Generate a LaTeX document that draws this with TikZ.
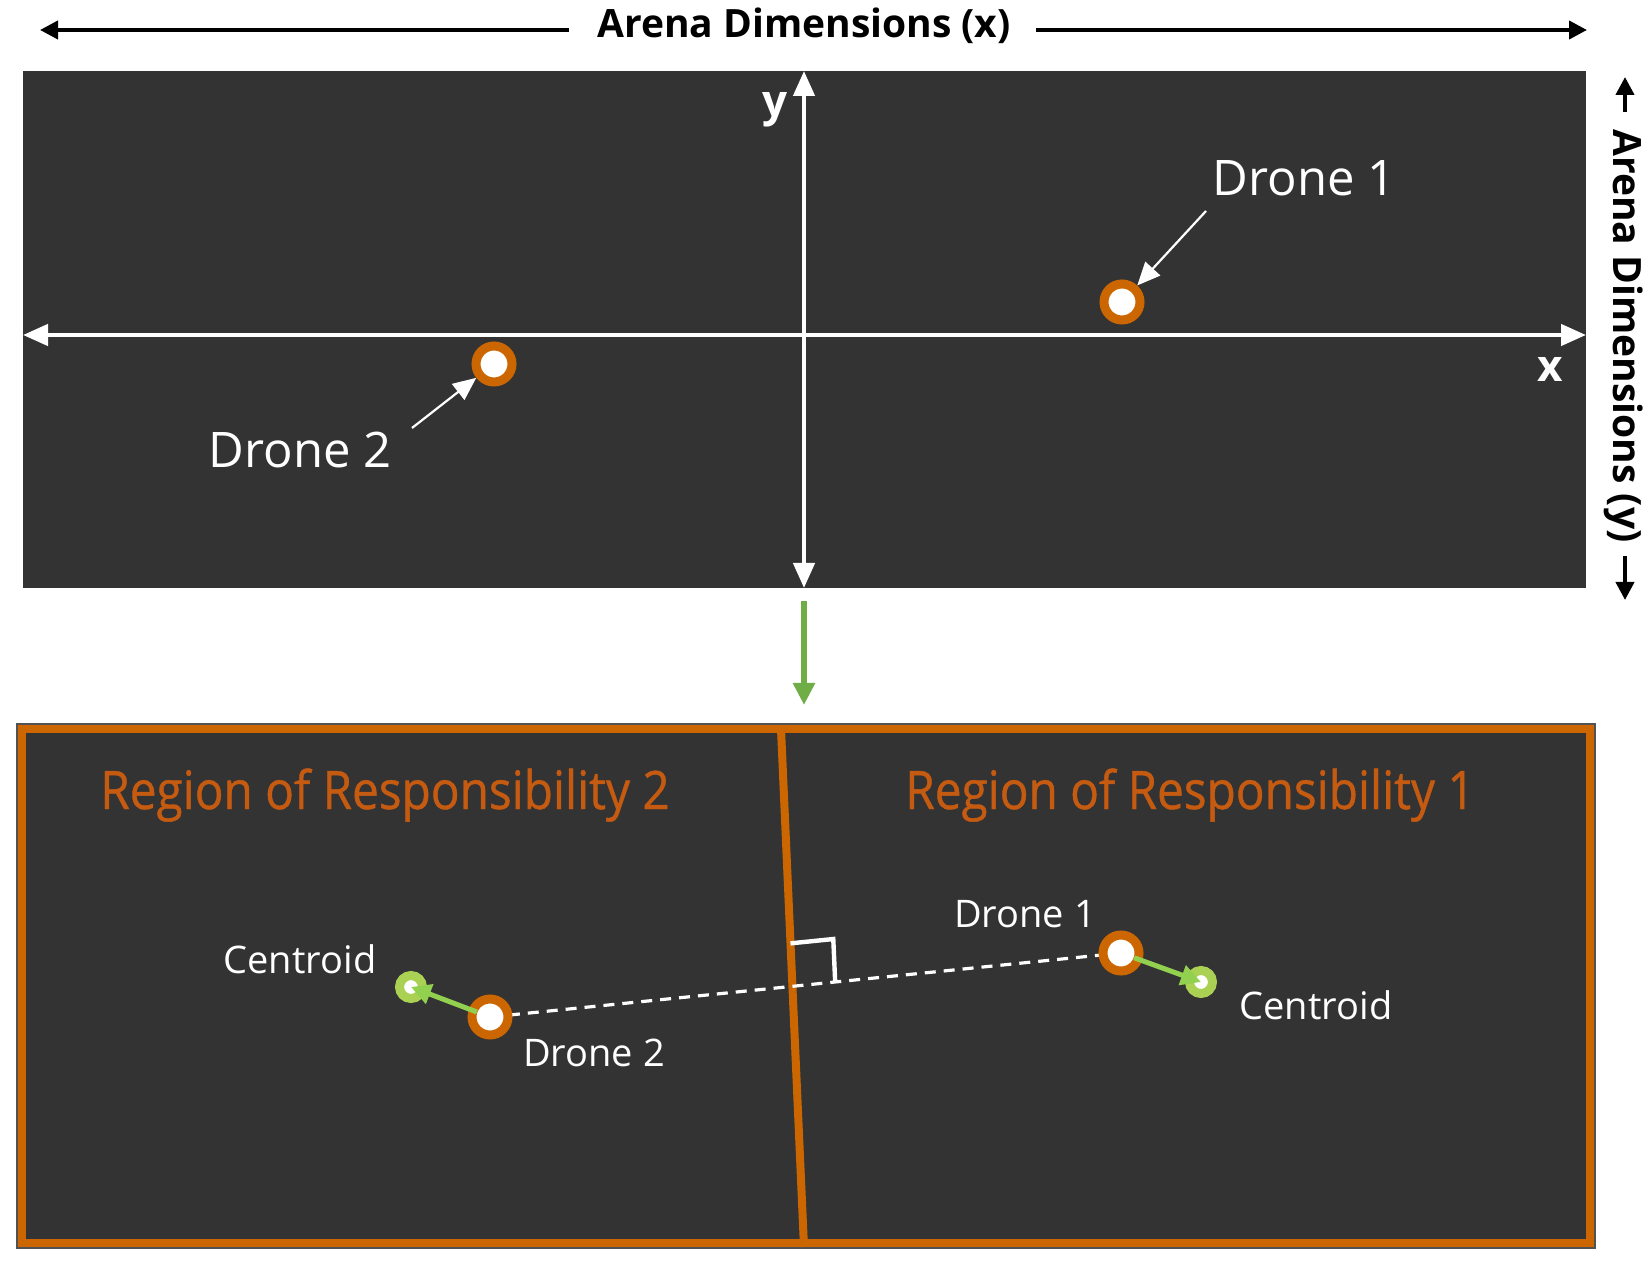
\documentclass[tikz,border=0pt]{standalone}
\usepackage{fontspec}
\usepackage{graphicx}
\setmainfont{Open Sans}
\newfontfamily\semib{Open Sans}[BoldFont={*}, BoldFeatures={FakeBold=0.9}]
\usetikzlibrary{arrows.meta,calc}
\definecolor{bg}{HTML}{333333}
\definecolor{org}{HTML}{CC6600}
\definecolor{orgtxt}{HTML}{C55A11}
\definecolor{grn}{HTML}{70AD47}
\definecolor{lgrn}{HTML}{92D050}
\definecolor{lime}{HTML}{AAD154}
\newcommand{\ttlbox}[1]{\scalebox{0.9}[1]{#1}}
\begin{document}
\begin{tikzpicture}[x=0.5pt,y=-0.5pt,
  axis/.style={draw=white, line width=2.2pt, {Triangle[length=12.5pt,width=10.5pt]}-{Triangle[length=12.5pt,width=10.5pt]}},
  blk/.style={draw=black, line width=2pt, -{Triangle[length=9pt,width=9pt]}},
  ptr/.style={draw=white, line width=1.1pt, -{Triangle[length=11.5pt,width=10pt]}},
  grnarrow/.style={draw=grn, line width=3pt, -{Triangle[length=11pt,width=10.5pt]}},
  cen/.style={draw=lgrn, line width=2.5pt, -{Triangle[length=10pt,width=10pt]}, shorten <=7pt},
  drone/.style={circle, draw=org, fill=white, line width=4.5pt, minimum size=18pt, inner sep=0pt},
  cent/.style={circle, draw=lime, fill=white, line width=4.5pt, minimum size=11.5pt, inner sep=0pt},
  big/.style={text=white, inner sep=0pt, anchor=base, font=\fontsize{24.5}{29}\selectfont},
  small/.style={text=white, inner sep=0pt, anchor=base, font=\fontsize{19}{23}\selectfont},
  title/.style={text=orgtxt, inner sep=0pt, anchor=base, font=\semib\bfseries\fontsize{26.5}{32}\selectfont},
  dim/.style={text=black, inner sep=0pt, font=\bfseries\fontsize{19.5}{23}\selectfont},
  axl/.style={text=white, inner sep=0pt, font=\bfseries\fontsize{22}{26}\selectfont}
]
\useasboundingbox (0,0) rectangle (1651,1283);
\fill[white] (0,0) rectangle (1651,1283);

% ---------- top arena ----------
\fill[bg] (23,71) rectangle (1586,588);
\coordinate (xl) at (23,335);
\coordinate (xr) at (1586,335);
\coordinate (yt) at (804,71);
\coordinate (yb) at (804,588);
\draw[axis] (xl) -- (xr);
\draw[axis] (yb) -- (yt);
\node[axl] (ly) at (775,110) {y};
\node[axl] (lx) at (1550,369) {x};

\node[drone] (d1) at (1122,302) {};
\node[drone] (d2) at (494,364) {};
\node[big] (l1) at (1304,196) {Drone 1};
\node[big] (l2) at (300,468) {Drone 2};
\coordinate (p1) at (1206,211);
\coordinate (p2) at (412,428);
\draw[ptr] (p1) -- (d1);
\draw[ptr] (p2) -- (d2);

% ---------- dimension labels ----------
\node[dim] (ax) at (804,26) {Arena Dimensions (x)};
\coordinate (axl1) at (569,30);
\coordinate (axl2) at (40,30);
\coordinate (axr1) at (1036,30);
\coordinate (axr2) at (1587,30);
\draw[blk] (axl1) -- (axl2);
\draw[blk] (axr1) -- (axr2);
\node[dim, rotate=-90] (ay) at (1624,336) {Arena Dimensions (y)};
\coordinate (ayt1) at (1625,112);
\coordinate (ayt2) at (1625,77);
\coordinate (ayb1) at (1625,556);
\coordinate (ayb2) at (1625,600);
\draw[blk] (ayt1) -- (ayt2);
\draw[blk] (ayb1) -- (ayb2);

% ---------- green arrow ----------
\coordinate (g1) at (804,601);
\coordinate (g2) at (804,705);
\draw[grnarrow] (g1) -- (g2);

% ---------- bottom regions ----------
\draw[fill=bg, draw=org, line width=4.5pt] (21.5,728.5) rectangle (1590.5,1243.5);
\draw[draw=bg!85!white, line width=0.6pt] (17,724) rectangle (1595,1248);
\coordinate (dt) at (781,729);
\coordinate (db) at (804,1247);
\draw[org, line width=4pt] (dt) -- (db);

\node[title] (r2) at (385,809) {\ttlbox{Region of Responsibility 2}};
\node[title] (r1) at (1190,809) {\ttlbox{Region of Responsibility 1}};

\coordinate (c1) at (1121,953);
\coordinate (c2) at (490,1017);
\draw[white, line width=1.6pt, dash pattern=on 5.5pt off 4pt] (c2) -- (c1);
\coordinate (P) at (intersection of c2--c1 and dt--db);
\coordinate (ru) at ($(P)!21.5pt!(c1)$);
\coordinate (rv) at ($(P)!21.5pt!(dt)$);
\draw[white, line width=2.2pt] (rv) -- ($(ru)+(rv)-(P)$) -- (ru);

\node[drone] (e1) at (c1) {};
\node[drone] (e2) at (c2) {};
\node[cent] (k1) at (1201,982) {};
\node[cent] (k2) at (411,987) {};
\draw[cen] (e1.center) -- (k1.center);
\draw[cen] (e2.center) -- (k2.center);

\node[small] (m1) at (1025,927) {Drone 1};
\node[small] (m2) at (594,1066) {Drone 2};
\node[small] (n1) at (1316,1019) {Centroid};
\node[small] (n2) at (300,973) {Centroid};
\end{tikzpicture}
\end{document}
